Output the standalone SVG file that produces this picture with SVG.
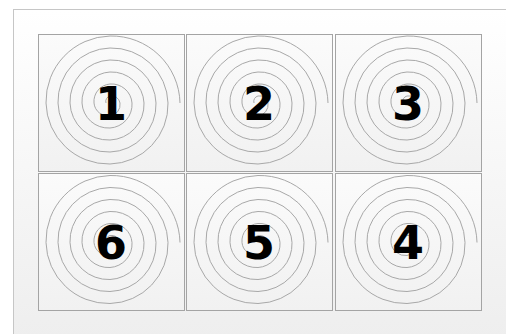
<svg xmlns="http://www.w3.org/2000/svg" xmlns:xlink="http://www.w3.org/1999/xlink" width="506" height="334" viewBox="0 0 506 334">
<defs>
<linearGradient id="bg" x1="0" y1="0" x2="0" y2="1">
<stop offset="0" stop-color="#ffffff"/>
<stop offset="1" stop-color="#eeeeee"/>
</linearGradient>
<linearGradient id="cellg" x1="0" y1="0" x2="0" y2="1">
<stop offset="0" stop-color="#fbfbfb"/>
<stop offset="1" stop-color="#f1f1f1"/>
</linearGradient>
<path id="sp" d="M -4 0 A 5.5 5.5 0 0 1 0 -7 A 8.5 8.5 0 0 1 10 0 A 11.5 11.5 0 0 1 0 13 A 14.5 14.5 0 0 1 -16 0 A 17.5 17.5 0 0 1 0 -19 A 20.5 20.5 0 0 1 22 0 A 23.5 23.5 0 0 1 0 25 A 26.5 26.5 0 0 1 -28 0 A 29.5 29.5 0 0 1 0 -31 A 32.5 32.5 0 0 1 34 0 A 35.5 35.5 0 0 1 0 37 A 38.5 38.5 0 0 1 -40 0 A 41.5 41.5 0 0 1 0 -43 A 44.5 44.5 0 0 1 46 0 A 47.5 47.5 0 0 1 0 49 A 50.5 50.5 0 0 1 -52 0 A 53.5 53.5 0 0 1 0 -55 A 56.5 56.5 0 0 1 58 0 A 59.5 59.5 0 0 1 0 61 A 62.5 62.5 0 0 1 -64 0 A 65.5 65.5 0 0 1 0 -67 A 68.5 68.5 0 0 1 70 0"/>
</defs>
<style>
.cell{fill:url(#cellg);stroke:#a4a4a4;stroke-width:1}
.spiral{fill:none;stroke:#a8a8a8;stroke-width:1}
.num{font-family:"DejaVu Sans","Liberation Sans",sans-serif;font-weight:bold;font-size:46px;fill:#000000;text-anchor:middle}
</style>
<rect x="0" y="0" width="506" height="334" fill="#ffffff"/>
<rect x="13.5" y="9.5" width="500" height="330" fill="url(#bg)" stroke="#c6c6c6" stroke-width="1"/>
<g id="node1">
<rect class="cell" x="38.5" y="34.5" width="146" height="137"/>
<use xlink:href="#sp" href="#sp" class="spiral" x="110" y="103"/>
<text class="num" x="111" y="119.5">1</text>
</g>
<g id="node2">
<rect class="cell" x="186.5" y="34.5" width="146" height="137"/>
<use xlink:href="#sp" href="#sp" class="spiral" x="258" y="103"/>
<text class="num" x="259" y="119.5">2</text>
</g>
<g id="node3">
<rect class="cell" x="335.5" y="34.5" width="146" height="137"/>
<use xlink:href="#sp" href="#sp" class="spiral" x="407" y="103"/>
<text class="num" x="408" y="119.5">3</text>
</g>
<g id="node6">
<rect class="cell" x="38.5" y="173.5" width="146" height="137"/>
<use xlink:href="#sp" href="#sp" class="spiral" x="110" y="242.5"/>
<text class="num" x="111" y="259">6</text>
</g>
<g id="node5">
<rect class="cell" x="186.5" y="173.5" width="146" height="137"/>
<use xlink:href="#sp" href="#sp" class="spiral" x="258" y="242.5"/>
<text class="num" x="259" y="259">5</text>
</g>
<g id="node4">
<rect class="cell" x="335.5" y="173.5" width="146" height="137"/>
<use xlink:href="#sp" href="#sp" class="spiral" x="407" y="242.5"/>
<text class="num" x="408" y="259">4</text>
</g>
</svg>
